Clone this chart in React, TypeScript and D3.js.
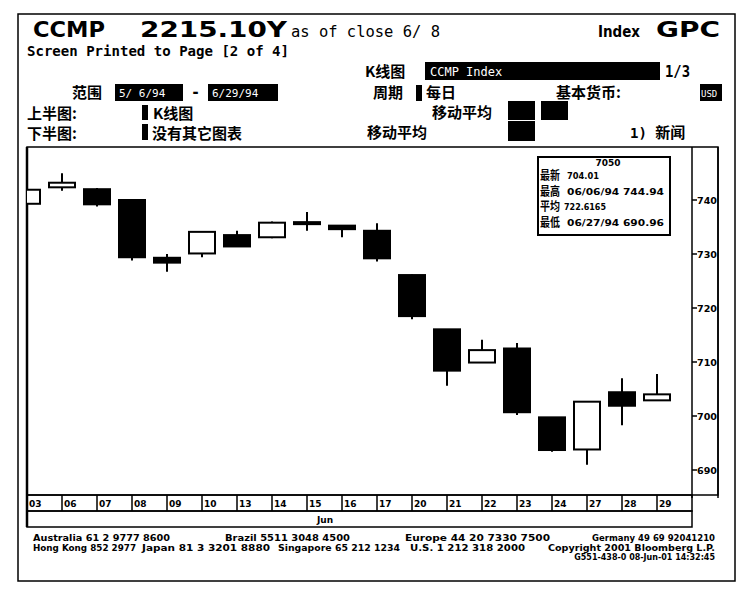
import React from "react";
import * as d3 from "d3";

// Daily candles, June 1994
const dates = ["03", "06", "07", "08", "09", "10", "13", "14", "15", "16", "17", "20", "21", "22", "23", "24", "27", "28", "29"];
const opens = [739.3, 742.35, 742.0, 740.0, 729.3, 730.1, 733.5, 733.1, 735.7, 735.25, 734.3, 726.1, 716.05, 709.9, 712.5, 699.75, 693.8, 704.4, 702.9];
const highs = [741.9, 744.94, 742.2, 740.1, 730.0, 734.2, 734.3, 736.0, 737.8, 735.3, 735.7, 726.2, 716.1, 714.1, 713.5, 699.8, 702.7, 707.0, 707.8];
const lows = [739.3, 741.7, 738.8, 728.8, 726.7, 729.4, 731.3, 732.9, 734.3, 733.1, 728.6, 717.9, 705.6, 709.8, 700.2, 693.4, 690.96, 698.3, 702.8];
const closes = [741.9, 743.2, 739.2, 729.4, 728.4, 734.1, 731.4, 735.8, 735.9, 734.6, 729.2, 718.5, 708.4, 712.2, 700.7, 693.7, 702.65, 701.9, 704.01];
const yTicks = [740, 730, 720, 710, 700, 690];
const monthLabel = "Jun";

const statLabels = ["最新", "最高", "平均", "最低"];
const statValues = ["704.01", "06/06/94 744.94", "722.6165", "06/27/94 690.96"];

const footer1 = [
  { t: "Australia 61 2 9777 8600", x: 33, w: 137 },
  { t: "Brazil 5511 3048 4500", x: 225, w: 125 },
  { t: "Europe 44 20 7330 7500", x: 405, w: 145 },
  { t: "Germany 49 69 92041210", x: 592, w: 123 },
];
const footer2 = [
  { t: "Hong Kong 852 2977", x: 33, w: 103 },
  { t: "Japan 81 3 3201 8880", x: 142, w: 128 },
  { t: "Singapore 65 212 1234", x: 278, w: 122 },
  { t: "U.S. 1 212 318 2000", x: 410, w: 115 },
  { t: "Copyright 2001 Bloomberg L.P.", x: 548, w: 167 },
];
const footer3 = "G551-438-0 08-Jun-01 14:32:45";

const PL = 27, PR = 692, PT = 147, PB = 495, AXR = 718;
const mono = "'DejaVu Sans Mono', monospace";
const sans = "'DejaVu Sans', sans-serif";
const cjk = "'Noto Sans CJK SC', sans-serif";

export default function App() {
  const x = d3.scaleLinear().domain([0, 19]).range([PL, PR]);
  const y = d3.scaleLinear().domain([690, 740]).range([470, 200]);
  const hw = 14;

  const candles = dates.map((d, i) => {
    const o = opens[i], c = closes[i], h = highs[i], l = lows[i];
    const up = c >= o;
    const cx = x(i);
    const top = y(Math.max(o, c));
    const bot = y(Math.min(o, c));
    return (
      <g key={d}>
        <line x1={cx} x2={cx} y1={y(h)} y2={top} stroke="#000" strokeWidth={2} />
        <line x1={cx} x2={cx} y1={bot} y2={y(l)} stroke="#000" strokeWidth={2} />
        {up ? (
          <rect x={cx - hw + 1} y={top} width={2 * hw - 2} height={Math.max(bot - top, 2)} fill="#fff" stroke="#000" strokeWidth={2} />
        ) : (
          <rect x={cx - hw} y={top - 1} width={2 * hw} height={Math.max(bot - top, 2) + 2} fill="#000" />
        )}
      </g>
    );
  });

  return (
    <svg width={750} height={592} style={{ display: "block", position: "absolute", left: 0, top: 0 }}>
      <rect width={750} height={592} fill="#fff" />
      <defs>
        <clipPath id="plotClip">
          <rect x={PL} y={PT} width={PR - PL} height={PB - PT} />
        </clipPath>
      </defs>
      {/* page frame */}
      <rect x={18} y={14} width={717} height={567} fill="none" stroke="#000" strokeWidth={1.5} />

      {/* header */}
      <g fontFamily={sans} fontWeight="bold" fill="#000">
        <text x={33} y={37} fontSize={21} textLength={72} lengthAdjust="spacingAndGlyphs">CCMP</text>
        <text x={140} y={37} fontSize={21} textLength={147} lengthAdjust="spacingAndGlyphs">2215.10Y</text>
        <text x={291} y={37} fontSize={15} fontWeight="normal" fontFamily={mono} textLength={149} lengthAdjust="spacingAndGlyphs">as of close 6/ 8</text>
        <text x={598} y={37} fontSize={15} textLength={42} lengthAdjust="spacingAndGlyphs">Index</text>
        <text x={656} y={37} fontSize={21} textLength={64} lengthAdjust="spacingAndGlyphs">GPC</text>
        <text x={27} y={56} fontSize={14} fontFamily={mono} textLength={262} lengthAdjust="spacingAndGlyphs">Screen Printed to Page [2 of 4]</text>
      </g>

      <g fontFamily={cjk} fontWeight="bold" fill="#000" fontSize={15}>
        <text x={365} y={77}>K线图</text>
        <rect x={425} y={62} width={235} height={18} fill="#000" />
        <text x={430} y={76} fontSize={12} fill="#fff" fontFamily={mono} fontWeight="normal">CCMP Index</text>
        <text x={665} y={77} fontFamily={mono} fontSize={15} textLength={25} lengthAdjust="spacingAndGlyphs">1/3</text>

        <text x={72} y={98}>范围</text>
        <rect x={115} y={84} width={68} height={17} fill="#000" />
        <text x={119} y={97} fontSize={11} fill="#fff" fontFamily={mono} fontWeight="normal">5/ 6/94</text>
        <text x={191} y={97} fontFamily={mono}>-</text>
        <rect x={208} y={84} width={70} height={17} fill="#000" />
        <text x={212} y={97} fontSize={11} fill="#fff" fontFamily={mono} fontWeight="normal">6/29/94</text>
        <text x={373} y={98}>周期</text>
        <rect x={416} y={85} width={6} height={16} fill="#000" />
        <text x={426} y={98}>每日</text>
        <text x={556} y={98}>基本货币:</text>
        <rect x={700} y={84} width={22} height={17} fill="#000" />
        <text x={701} y={97} fontSize={9} fill="#fff" fontFamily={mono} fontWeight="normal">USD</text>

        <text x={27} y={119}>上半图:</text>
        <rect x={142} y={105} width={6} height={15} fill="#000" />
        <text x={153} y={119}>K线图</text>
        <text x={432} y={118}>移动平均</text>
        <rect x={508} y={101} width={27} height={19} fill="#000" />
        <rect x={541} y={101} width={27} height={19} fill="#000" />

        <text x={27} y={139}>下半图:</text>
        <rect x={142} y={124} width={6} height={16} fill="#000" />
        <text x={152} y={139}>没有其它图表</text>
        <text x={367} y={138}>移动平均</text>
        <rect x={508} y={121} width={27} height={20} fill="#000" />
        <text x={630} y={138}>
          <tspan fontFamily={mono} fontSize={14}>1) </tspan>新闻
        </text>
      </g>

      {/* chart panel */}
      <rect x={PL} y={PT} width={AXR - PL} height={PB - PT} fill="#fff" stroke="#000" strokeWidth={1.5} />
      <line x1={PR} x2={PR} y1={PT} y2={PB + 3} stroke="#000" strokeWidth={1.5} />
      <line x1={AXR} x2={AXR} y1={PT} y2={PB + 3} stroke="#000" strokeWidth={1.5} />
      <line x1={PL} x2={PL} y1={PT} y2={527} stroke="#000" strokeWidth={2.5} />

      <g clipPath="url(#plotClip)">{candles}</g>

      {/* right axis */}
      <g fontFamily={sans} fontWeight="bold" fontSize={9} fill="#000">
        {yTicks.map((t) => (
          <g key={t}>
            <line x1={PR} x2={PR + 5} y1={y(t)} y2={y(t)} stroke="#000" strokeWidth={1.5} />
            <text x={PR + 5} y={y(t) + 3.5} textLength={20} lengthAdjust="spacingAndGlyphs">{t}</text>
          </g>
        ))}
      </g>

      {/* date rows */}
      <rect x={PL} y={PB} width={PR - PL} height={16} fill="none" stroke="#000" strokeWidth={1.5} />
      <rect x={PL} y={PB + 16} width={PR - PL} height={16} fill="none" stroke="#000" strokeWidth={1.5} />
      <g fontFamily={sans} fontWeight="bold" fontSize={9} fill="#000">
        {dates.map((d, i) => (
          <g key={d}>
            <line x1={x(i)} x2={x(i)} y1={PB} y2={PB + 16} stroke="#000" strokeWidth={1.5} />
            <text x={x(i) + 2} y={PB + 12}>{d}</text>
          </g>
        ))}
        <text x={325} y={PB + 28} textAnchor="middle">{monthLabel}</text>
      </g>

      {/* stats box */}
      <rect x={538} y={157} width={132} height={78} fill="#fff" stroke="#000" strokeWidth={2} />
      <text x={608} y={166} textAnchor="middle" fontFamily={sans} fontWeight="bold" fontSize={9}>7050</text>
      {statLabels.map((s, i) => (
        <g key={s}>
          <text x={540} y={180 + i * 15.5} fontFamily={cjk} fontWeight="bold" fontSize={12} textLength={20} lengthAdjust="spacingAndGlyphs">{s}</text>
          <text x={i === 2 ? 564 : 567} y={179 + i * 15.5} fontFamily={sans} fontWeight="bold" fontSize={9} textLength={i === 0 ? 32 : i === 2 ? 42 : 97} lengthAdjust="spacingAndGlyphs">{statValues[i]}</text>
        </g>
      ))}

      {/* footer */}
      <g fontFamily={sans} fontWeight="bold" fontSize={9} fill="#000">
        {footer1.map((f) => (
          <text key={f.t} x={f.x} y={541} textLength={f.w} lengthAdjust="spacingAndGlyphs">{f.t}</text>
        ))}
        {footer2.map((f) => (
          <text key={f.t} x={f.x} y={551} fontSize={9.5} textLength={f.w} lengthAdjust="spacingAndGlyphs">{f.t}</text>
        ))}
        <text x={715} y={560} fontSize={8} textAnchor="end">{footer3}</text>
      </g>
    </svg>
  );
}
